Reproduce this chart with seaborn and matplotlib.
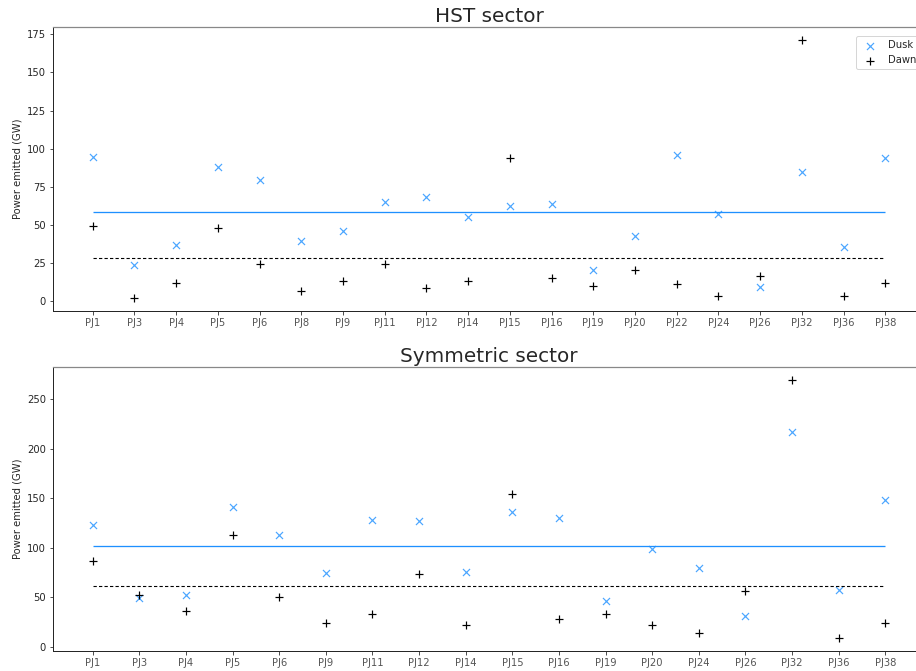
import matplotlib
matplotlib.use("Agg")
import matplotlib.pyplot as plt
import seaborn as sns
import pandas as pd

# ---- data ----
hst_orbits = ["PJ1", "PJ3", "PJ4", "PJ5", "PJ6", "PJ8", "PJ9", "PJ11", "PJ12", "PJ14",
              "PJ15", "PJ16", "PJ19", "PJ20", "PJ22", "PJ24", "PJ26", "PJ32", "PJ36", "PJ38"]
hst_dusk = [94.9, 24.1, 37.0, 88.0, 79.8, 39.9, 46.1, 65.2, 68.4, 55.6,
            62.3, 63.8, 20.8, 42.7, 96.0, 57.1, 9.2, 85.1, 35.9, 94.0]
hst_dawn = [49.5, 2.2, 12.3, 47.8, 24.8, 7.0, 13.1, 24.7, 8.5, 13.1,
            94.0, 15.3, 9.8, 20.8, 11.2, 3.7, 16.6, 171.3, 3.7, 11.8]
hst_dusk_mean = 58.6
hst_dawn_mean = 28.4

sym_orbits = ["PJ1", "PJ3", "PJ4", "PJ5", "PJ6", "PJ9", "PJ11", "PJ12", "PJ14",
              "PJ15", "PJ16", "PJ19", "PJ20", "PJ24", "PJ26", "PJ32", "PJ36", "PJ38"]
sym_dusk = [122.6, 49.3, 52.7, 141.5, 113.2, 74.0, 128.0, 127.0, 75.3,
            136.5, 130.1, 46.6, 98.6, 79.1, 30.7, 216.6, 57.1, 148.0]
sym_dawn = [86.5, 52.7, 36.1, 113.2, 50.7, 24.3, 32.8, 73.0, 22.3,
            154.4, 27.7, 32.8, 22.3, 13.9, 56.1, 269.3, 8.8, 24.3]
sym_dusk_mean = 101.3
sym_dawn_mean = 61.5

titles = ["HST sector", "Symmetric sector"]
ylabel = "Power emitted (GW)"
series_names = ["Dusk", "Dawn"]

# ---- style ----
sns.set_theme(style="ticks")
plt.rcParams['font.family'] = ['DejaVu Sans']
plt.rcParams['text.color'] = '#262626'
plt.rcParams['axes.labelcolor'] = '#262626'
plt.rcParams['xtick.color'] = '#262626'
plt.rcParams['ytick.color'] = '#262626'

DPI = 72
fig = plt.figure(figsize=(916 / DPI, 671 / DPI), dpi=DPI)
W, H = 916, 671
ax1 = fig.add_axes([53 / W, 1 - 311 / H, (925 - 53) / W, (311 - 27) / H])
ax2 = fig.add_axes([53 / W, 1 - 651 / H, (925 - 53) / W, (651 - 367) / H])

palette = {"Dusk": "dodgerblue", "Dawn": "black"}
markers = {"Dusk": "X", "Dawn": "P"}


def draw(ax, orbits, dusk, dawn, dusk_mean, dawn_mean, title, legend):
    df = pd.DataFrame({
        "orbit": orbits + orbits,
        "power": dusk + dawn,
        "side": [series_names[0]] * len(orbits) + [series_names[1]] * len(orbits),
    })
    for name, mk, alpha in [("Dusk", "x", 0.8), ("Dawn", "+", 1.0)]:
        sub = df[df["side"] == name]
        sns.scatterplot(data=sub, x="orbit", y="power", ax=ax, color=palette[name],
                        marker=mk, s=50, linewidth=1.2, alpha=alpha, label=name if legend else None)
    ax.hlines(dusk_mean, 0, len(orbits) - 1, color="dodgerblue", lw=1.3)
    ax.hlines(dawn_mean, 0, len(orbits) - 1, color="black", lw=1.1, linestyles=(0, (3, 2)))
    ax.set_title(title, fontsize=20, pad=5)
    ax.set_xlabel("")
    ax.set_ylabel(ylabel, fontsize=10)
    ax.tick_params(axis="both", labelsize=10, length=3.5, width=0.8)
    ax.tick_params(axis="x", labelcolor="#555555")
    ax.margins(x=0.05, y=0.05)
    for sp in ["left", "bottom"]:
        ax.spines[sp].set_color("#262626")
        ax.spines[sp].set_linewidth(1.0)
    ax.spines["top"].set_color("#888888")
    ax.spines["right"].set_color("#888888")
    if legend:
        ax.legend(loc="upper right", fontsize=10, frameon=True, handletextpad=0.8,
                  borderpad=0.4, bbox_to_anchor=(1.0, 0.985))


draw(ax1, hst_orbits, hst_dusk, hst_dawn, hst_dusk_mean, hst_dawn_mean, titles[0], True)
draw(ax2, sym_orbits, sym_dusk, sym_dawn, sym_dusk_mean, sym_dawn_mean, titles[1], False)
ax1.set_yticks([0, 25, 50, 75, 100, 125, 150, 175])
ax2.set_yticks([0, 50, 100, 150, 200, 250])

fig.savefig("out.png", dpi=DPI)
